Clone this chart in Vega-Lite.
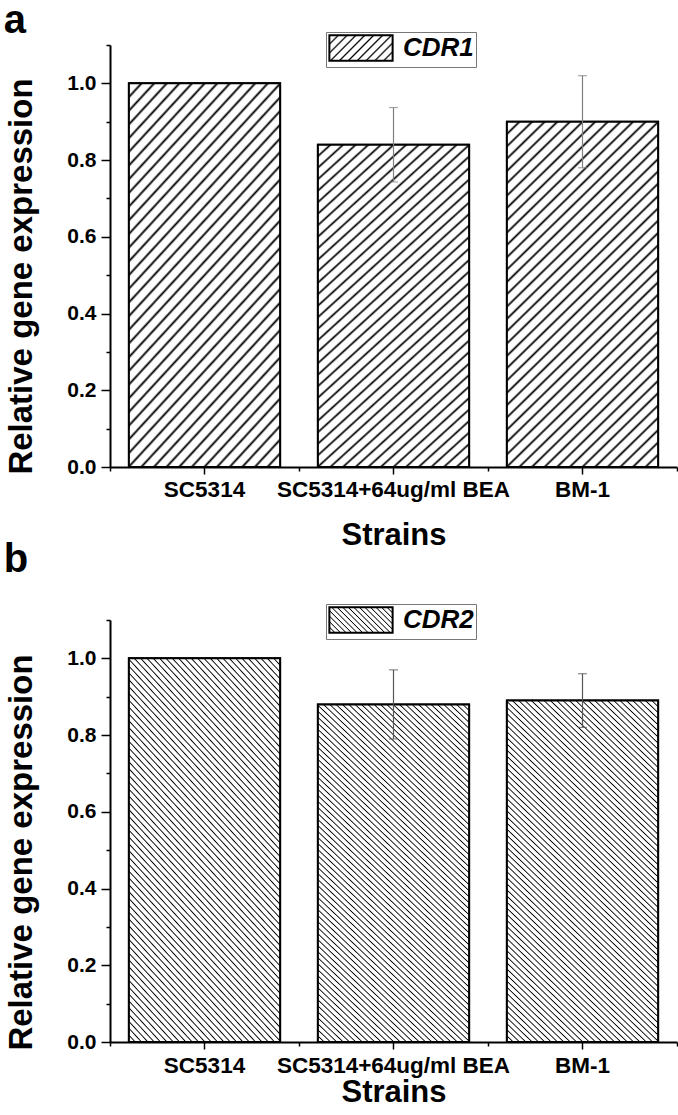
{
"$schema":"https://vega.github.io/schema/vega-lite/v6.json",
"padding":{"left":3,"top":0,"right":0,"bottom":0},
"spacing":-12,
"resolve":{"scale":{"stroke":"independent"},"legend":{"stroke":"independent"}},
"config":{"view":{"stroke":null},"font":"Liberation Sans",
 "title":{"anchor":"start","frame":"bounds","fontSize":40,"fontWeight":"bold","color":"#000","font":"Liberation Sans","offset":-9,"dx":-2},
 "axis":{"labelFont":"Liberation Sans","titleFont":"Liberation Sans","labelColor":"#000","titleColor":"#000","tickColor":"#000","domainColor":"#000","grid":false},
 "legend":{"labelFont":"Liberation Sans"}},
"vconcat":[
{
"title":{"text":"a"},
"width":567,"height":422,
"data":{"values":[
 {"strain":"SC5314","gene":"CDR1","value":1.0,"err":0},
 {"strain":"SC5314+64ug/ml BEA","gene":"CDR1","value":0.84,"err":0.097},
 {"strain":"BM-1","gene":"CDR1","value":0.90,"err":0.12}]},
"resolve":{"axis":{"x":"independent","y":"independent"}},
"layer":[
 {"mark":{"type":"bar","width":{"band":0.8},"strokeWidth":2,"fill":{"gradient":"linear","x1":0,"y1":0,"x2":1.207,"y2":0.483,"stops":[
{"offset":0,"color":"#000"},{"offset":0.02,"color":"#fff"},
{"offset":0.08,"color":"#fff"},{"offset":0.1,"color":"#000"},{"offset":0.12,"color":"#fff"},
{"offset":0.18,"color":"#fff"},{"offset":0.2,"color":"#000"},{"offset":0.22,"color":"#fff"},
{"offset":0.28,"color":"#fff"},{"offset":0.3,"color":"#000"},{"offset":0.32,"color":"#fff"},
{"offset":0.38,"color":"#fff"},{"offset":0.4,"color":"#000"},{"offset":0.42,"color":"#fff"},
{"offset":0.48,"color":"#fff"},{"offset":0.5,"color":"#000"},{"offset":0.52,"color":"#fff"},
{"offset":0.58,"color":"#fff"},{"offset":0.6,"color":"#000"},{"offset":0.62,"color":"#fff"},
{"offset":0.68,"color":"#fff"},{"offset":0.7,"color":"#000"},{"offset":0.72,"color":"#fff"},
{"offset":0.78,"color":"#fff"},{"offset":0.8,"color":"#000"},{"offset":0.82,"color":"#fff"},
{"offset":0.88,"color":"#fff"},{"offset":0.9,"color":"#000"},{"offset":0.92,"color":"#fff"},
{"offset":0.98,"color":"#fff"},{"offset":1,"color":"#000"}]}},
  "encoding":{
   "x":{"field":"strain","type":"nominal","sort":null,"scale":{"domain":["SC5314","SC5314+64ug/ml BEA","BM-1"],"paddingInner":0,"paddingOuter":0},
     "axis":{"title":"Strains","titleFontSize":31,"titleFontWeight":"bold","titlePadding":20,"labelAngle":0,"labelFontSize":22.5,"labelFontWeight":"bold","labelPadding":4,"labelLimit":0,"tickSize":7,"tickWidth":1.5,"domainWidth":2,"orient":"bottom"}},
   "y":{"field":"value","type":"quantitative","scale":{"domain":[0,1.1],"nice":false},
     "axis":{"orient":"left","values":[0,0.1,0.2,0.3,0.4,0.5,0.6,0.7,0.8,0.9,1.0,1.1],"labelExpr":"round(datum.value*10)%2==0 ? format(datum.value,'.1f') : ''","tickSize":{"condition":{"test":"round(datum.value*10)%2==0","value":9},"value":4},"tickWidth":1.5,"domainWidth":2,"labelFontSize":21,"labelFontWeight":"bold","labelPadding":5,"title":"Relative gene expression","titleFontSize":33,"titleFontWeight":"bold","titlePadding":28,"titleY":231}},
   "stroke":{"field":"gene","type":"nominal","scale":{"range":["#000"]},
     "legend":{"orient":"none","legendX":216,"legendY":-13,"title":null,"symbolType":"M-2.5,-1H2.5V1H-2.5Z","symbolSize":640,"symbolOffset":19,"symbolStrokeWidth":2,"labelOffset":28,"labelFontSize":26,"labelFontWeight":"bold","labelFontStyle":"italic","labelColor":"#000","labelLimit":0,"strokeColor":"#777","padding":2}}}},
 {"mark":{"type":"bar","width":{"band":0.8},"stroke":"#000","strokeWidth":2,
   "fill":{"gradient":"linear","x1":0,"y1":0,"x2":0.516,"y2":1.207,"stops":[
{"offset":0,"color":"#000"},{"offset":0.005,"color":"#fff"},
{"offset":0.02,"color":"#fff"},{"offset":0.025,"color":"#000"},{"offset":0.03,"color":"#fff"},
{"offset":0.045,"color":"#fff"},{"offset":0.05,"color":"#000"},{"offset":0.055,"color":"#fff"},
{"offset":0.07,"color":"#fff"},{"offset":0.075,"color":"#000"},{"offset":0.08,"color":"#fff"},
{"offset":0.095,"color":"#fff"},{"offset":0.1,"color":"#000"},{"offset":0.105,"color":"#fff"},
{"offset":0.12,"color":"#fff"},{"offset":0.125,"color":"#000"},{"offset":0.13,"color":"#fff"},
{"offset":0.145,"color":"#fff"},{"offset":0.15,"color":"#000"},{"offset":0.155,"color":"#fff"},
{"offset":0.17,"color":"#fff"},{"offset":0.175,"color":"#000"},{"offset":0.18,"color":"#fff"},
{"offset":0.195,"color":"#fff"},{"offset":0.2,"color":"#000"},{"offset":0.205,"color":"#fff"},
{"offset":0.22,"color":"#fff"},{"offset":0.225,"color":"#000"},{"offset":0.23,"color":"#fff"},
{"offset":0.245,"color":"#fff"},{"offset":0.25,"color":"#000"},{"offset":0.255,"color":"#fff"},
{"offset":0.27,"color":"#fff"},{"offset":0.275,"color":"#000"},{"offset":0.28,"color":"#fff"},
{"offset":0.295,"color":"#fff"},{"offset":0.3,"color":"#000"},{"offset":0.305,"color":"#fff"},
{"offset":0.32,"color":"#fff"},{"offset":0.325,"color":"#000"},{"offset":0.33,"color":"#fff"},
{"offset":0.345,"color":"#fff"},{"offset":0.35,"color":"#000"},{"offset":0.355,"color":"#fff"},
{"offset":0.37,"color":"#fff"},{"offset":0.375,"color":"#000"},{"offset":0.38,"color":"#fff"},
{"offset":0.395,"color":"#fff"},{"offset":0.4,"color":"#000"},{"offset":0.405,"color":"#fff"},
{"offset":0.42,"color":"#fff"},{"offset":0.425,"color":"#000"},{"offset":0.43,"color":"#fff"},
{"offset":0.445,"color":"#fff"},{"offset":0.45,"color":"#000"},{"offset":0.455,"color":"#fff"},
{"offset":0.47,"color":"#fff"},{"offset":0.475,"color":"#000"},{"offset":0.48,"color":"#fff"},
{"offset":0.495,"color":"#fff"},{"offset":0.5,"color":"#000"},{"offset":0.505,"color":"#fff"},
{"offset":0.52,"color":"#fff"},{"offset":0.525,"color":"#000"},{"offset":0.53,"color":"#fff"},
{"offset":0.545,"color":"#fff"},{"offset":0.55,"color":"#000"},{"offset":0.555,"color":"#fff"},
{"offset":0.57,"color":"#fff"},{"offset":0.575,"color":"#000"},{"offset":0.58,"color":"#fff"},
{"offset":0.595,"color":"#fff"},{"offset":0.6,"color":"#000"},{"offset":0.605,"color":"#fff"},
{"offset":0.62,"color":"#fff"},{"offset":0.625,"color":"#000"},{"offset":0.63,"color":"#fff"},
{"offset":0.645,"color":"#fff"},{"offset":0.65,"color":"#000"},{"offset":0.655,"color":"#fff"},
{"offset":0.67,"color":"#fff"},{"offset":0.675,"color":"#000"},{"offset":0.68,"color":"#fff"},
{"offset":0.695,"color":"#fff"},{"offset":0.7,"color":"#000"},{"offset":0.705,"color":"#fff"},
{"offset":0.72,"color":"#fff"},{"offset":0.725,"color":"#000"},{"offset":0.73,"color":"#fff"},
{"offset":0.745,"color":"#fff"},{"offset":0.75,"color":"#000"},{"offset":0.755,"color":"#fff"},
{"offset":0.77,"color":"#fff"},{"offset":0.775,"color":"#000"},{"offset":0.78,"color":"#fff"},
{"offset":0.795,"color":"#fff"},{"offset":0.8,"color":"#000"},{"offset":0.805,"color":"#fff"},
{"offset":0.82,"color":"#fff"},{"offset":0.825,"color":"#000"},{"offset":0.83,"color":"#fff"},
{"offset":0.845,"color":"#fff"},{"offset":0.85,"color":"#000"},{"offset":0.855,"color":"#fff"},
{"offset":0.87,"color":"#fff"},{"offset":0.875,"color":"#000"},{"offset":0.88,"color":"#fff"},
{"offset":0.895,"color":"#fff"},{"offset":0.9,"color":"#000"},{"offset":0.905,"color":"#fff"},
{"offset":0.92,"color":"#fff"},{"offset":0.925,"color":"#000"},{"offset":0.93,"color":"#fff"},
{"offset":0.945,"color":"#fff"},{"offset":0.95,"color":"#000"},{"offset":0.955,"color":"#fff"},
{"offset":0.97,"color":"#fff"},{"offset":0.975,"color":"#000"},{"offset":0.98,"color":"#fff"},
{"offset":0.995,"color":"#fff"},{"offset":1,"color":"#000"}]}},
  "encoding":{
   "x":{"field":"strain","type":"nominal","sort":null,"axis":{"tickBand":"extent","tickSize":4,"tickWidth":1.5,"labels":false,"domain":false,"title":null,"orient":"bottom"}},
   "y":{"field":"value","type":"quantitative","axis":null}}},
 {"transform":[{"filter":"datum.err > 0"}],
  "mark":{"type":"errorbar","ticks":{"size":9,"color":"#808080","thickness":1.2},"rule":{"color":"#808080","strokeWidth":1.2}},
  "encoding":{
   "x":{"field":"strain","type":"nominal","sort":null,"axis":null},
   "y":{"field":"value","type":"quantitative","axis":null},
   "yError":{"field":"err"}}}
]
},
{
"title":{"text":"b","offset":24},
"width":567,"height":422,
"data":{"values":[
 {"strain":"SC5314","gene":"CDR2","value":1.0,"err":0},
 {"strain":"SC5314+64ug/ml BEA","gene":"CDR2","value":0.88,"err":0.09},
 {"strain":"BM-1","gene":"CDR2","value":0.89,"err":0.07}]},
"resolve":{"axis":{"x":"independent","y":"independent"}},
"layer":[
 {"mark":{"type":"bar","width":{"band":0.8},"strokeWidth":2,"fill":{"gradient":"linear","x1":0,"y1":1,"x2":1.207,"y2":0.517,"stops":[
{"offset":0,"color":"#000"},{"offset":0.0125,"color":"#fff"},
{"offset":0.05,"color":"#fff"},{"offset":0.0625,"color":"#000"},{"offset":0.075,"color":"#fff"},
{"offset":0.1125,"color":"#fff"},{"offset":0.125,"color":"#000"},{"offset":0.1375,"color":"#fff"},
{"offset":0.175,"color":"#fff"},{"offset":0.1875,"color":"#000"},{"offset":0.2,"color":"#fff"},
{"offset":0.2375,"color":"#fff"},{"offset":0.25,"color":"#000"},{"offset":0.2625,"color":"#fff"},
{"offset":0.3,"color":"#fff"},{"offset":0.3125,"color":"#000"},{"offset":0.325,"color":"#fff"},
{"offset":0.3625,"color":"#fff"},{"offset":0.375,"color":"#000"},{"offset":0.3875,"color":"#fff"},
{"offset":0.425,"color":"#fff"},{"offset":0.4375,"color":"#000"},{"offset":0.45,"color":"#fff"},
{"offset":0.4875,"color":"#fff"},{"offset":0.5,"color":"#000"},{"offset":0.5125,"color":"#fff"},
{"offset":0.55,"color":"#fff"},{"offset":0.5625,"color":"#000"},{"offset":0.575,"color":"#fff"},
{"offset":0.6125,"color":"#fff"},{"offset":0.625,"color":"#000"},{"offset":0.6375,"color":"#fff"},
{"offset":0.675,"color":"#fff"},{"offset":0.6875,"color":"#000"},{"offset":0.7,"color":"#fff"},
{"offset":0.7375,"color":"#fff"},{"offset":0.75,"color":"#000"},{"offset":0.7625,"color":"#fff"},
{"offset":0.8,"color":"#fff"},{"offset":0.8125,"color":"#000"},{"offset":0.825,"color":"#fff"},
{"offset":0.8625,"color":"#fff"},{"offset":0.875,"color":"#000"},{"offset":0.8875,"color":"#fff"},
{"offset":0.925,"color":"#fff"},{"offset":0.9375,"color":"#000"},{"offset":0.95,"color":"#fff"},
{"offset":0.9875,"color":"#fff"},{"offset":1,"color":"#000"}]}},
  "encoding":{
   "x":{"field":"strain","type":"nominal","sort":null,"scale":{"domain":["SC5314","SC5314+64ug/ml BEA","BM-1"],"paddingInner":0,"paddingOuter":0},
     "axis":{"title":"Strains","titleFontSize":31,"titleFontWeight":"bold","titlePadding":1,"labelAngle":0,"labelFontSize":22.5,"labelFontWeight":"bold","labelPadding":5,"labelLimit":0,"tickSize":7,"tickWidth":1.5,"domainWidth":2,"orient":"bottom"}},
   "y":{"field":"value","type":"quantitative","scale":{"domain":[0,1.1],"nice":false},
     "axis":{"orient":"left","values":[0,0.1,0.2,0.3,0.4,0.5,0.6,0.7,0.8,0.9,1.0,1.1],"labelExpr":"round(datum.value*10)%2==0 ? format(datum.value,'.1f') : ''","tickSize":{"condition":{"test":"round(datum.value*10)%2==0","value":9},"value":4},"tickWidth":1.5,"domainWidth":2,"labelFontSize":21,"labelFontWeight":"bold","labelPadding":5,"title":"Relative gene expression","titleFontSize":33,"titleFontWeight":"bold","titlePadding":28,"titleY":232}},
   "stroke":{"field":"gene","type":"nominal","scale":{"range":["#000"]},
     "legend":{"orient":"none","legendX":216,"legendY":-16,"title":null,"symbolType":"M-2.5,-1H2.5V1H-2.5Z","symbolSize":640,"symbolOffset":19,"symbolStrokeWidth":2,"labelOffset":28,"labelFontSize":26,"labelFontWeight":"bold","labelFontStyle":"italic","labelColor":"#000","labelLimit":0,"strokeColor":"#777","padding":2}}}},
 {"mark":{"type":"bar","width":{"band":0.8},"stroke":"#000","strokeWidth":2,
   "fill":{"gradient":"linear","x1":0,"y1":1,"x2":0.513,"y2":-0.207,"stops":[
{"offset":0,"color":"#000"},{"offset":0.0025,"color":"#fff"},
{"offset":0.01,"color":"#fff"},{"offset":0.0125,"color":"#000"},{"offset":0.015,"color":"#fff"},
{"offset":0.0225,"color":"#fff"},{"offset":0.025,"color":"#000"},{"offset":0.0275,"color":"#fff"},
{"offset":0.035,"color":"#fff"},{"offset":0.0375,"color":"#000"},{"offset":0.04,"color":"#fff"},
{"offset":0.0475,"color":"#fff"},{"offset":0.05,"color":"#000"},{"offset":0.0525,"color":"#fff"},
{"offset":0.06,"color":"#fff"},{"offset":0.0625,"color":"#000"},{"offset":0.065,"color":"#fff"},
{"offset":0.0725,"color":"#fff"},{"offset":0.075,"color":"#000"},{"offset":0.0775,"color":"#fff"},
{"offset":0.085,"color":"#fff"},{"offset":0.0875,"color":"#000"},{"offset":0.09,"color":"#fff"},
{"offset":0.0975,"color":"#fff"},{"offset":0.1,"color":"#000"},{"offset":0.1025,"color":"#fff"},
{"offset":0.11,"color":"#fff"},{"offset":0.1125,"color":"#000"},{"offset":0.115,"color":"#fff"},
{"offset":0.1225,"color":"#fff"},{"offset":0.125,"color":"#000"},{"offset":0.1275,"color":"#fff"},
{"offset":0.135,"color":"#fff"},{"offset":0.1375,"color":"#000"},{"offset":0.14,"color":"#fff"},
{"offset":0.1475,"color":"#fff"},{"offset":0.15,"color":"#000"},{"offset":0.1525,"color":"#fff"},
{"offset":0.16,"color":"#fff"},{"offset":0.1625,"color":"#000"},{"offset":0.165,"color":"#fff"},
{"offset":0.1725,"color":"#fff"},{"offset":0.175,"color":"#000"},{"offset":0.1775,"color":"#fff"},
{"offset":0.185,"color":"#fff"},{"offset":0.1875,"color":"#000"},{"offset":0.19,"color":"#fff"},
{"offset":0.1975,"color":"#fff"},{"offset":0.2,"color":"#000"},{"offset":0.2025,"color":"#fff"},
{"offset":0.21,"color":"#fff"},{"offset":0.2125,"color":"#000"},{"offset":0.215,"color":"#fff"},
{"offset":0.2225,"color":"#fff"},{"offset":0.225,"color":"#000"},{"offset":0.2275,"color":"#fff"},
{"offset":0.235,"color":"#fff"},{"offset":0.2375,"color":"#000"},{"offset":0.24,"color":"#fff"},
{"offset":0.2475,"color":"#fff"},{"offset":0.25,"color":"#000"},{"offset":0.2525,"color":"#fff"},
{"offset":0.26,"color":"#fff"},{"offset":0.2625,"color":"#000"},{"offset":0.265,"color":"#fff"},
{"offset":0.2725,"color":"#fff"},{"offset":0.275,"color":"#000"},{"offset":0.2775,"color":"#fff"},
{"offset":0.285,"color":"#fff"},{"offset":0.2875,"color":"#000"},{"offset":0.29,"color":"#fff"},
{"offset":0.2975,"color":"#fff"},{"offset":0.3,"color":"#000"},{"offset":0.3025,"color":"#fff"},
{"offset":0.31,"color":"#fff"},{"offset":0.3125,"color":"#000"},{"offset":0.315,"color":"#fff"},
{"offset":0.3225,"color":"#fff"},{"offset":0.325,"color":"#000"},{"offset":0.3275,"color":"#fff"},
{"offset":0.335,"color":"#fff"},{"offset":0.3375,"color":"#000"},{"offset":0.34,"color":"#fff"},
{"offset":0.3475,"color":"#fff"},{"offset":0.35,"color":"#000"},{"offset":0.3525,"color":"#fff"},
{"offset":0.36,"color":"#fff"},{"offset":0.3625,"color":"#000"},{"offset":0.365,"color":"#fff"},
{"offset":0.3725,"color":"#fff"},{"offset":0.375,"color":"#000"},{"offset":0.3775,"color":"#fff"},
{"offset":0.385,"color":"#fff"},{"offset":0.3875,"color":"#000"},{"offset":0.39,"color":"#fff"},
{"offset":0.3975,"color":"#fff"},{"offset":0.4,"color":"#000"},{"offset":0.4025,"color":"#fff"},
{"offset":0.41,"color":"#fff"},{"offset":0.4125,"color":"#000"},{"offset":0.415,"color":"#fff"},
{"offset":0.4225,"color":"#fff"},{"offset":0.425,"color":"#000"},{"offset":0.4275,"color":"#fff"},
{"offset":0.435,"color":"#fff"},{"offset":0.4375,"color":"#000"},{"offset":0.44,"color":"#fff"},
{"offset":0.4475,"color":"#fff"},{"offset":0.45,"color":"#000"},{"offset":0.4525,"color":"#fff"},
{"offset":0.46,"color":"#fff"},{"offset":0.4625,"color":"#000"},{"offset":0.465,"color":"#fff"},
{"offset":0.4725,"color":"#fff"},{"offset":0.475,"color":"#000"},{"offset":0.4775,"color":"#fff"},
{"offset":0.485,"color":"#fff"},{"offset":0.4875,"color":"#000"},{"offset":0.49,"color":"#fff"},
{"offset":0.4975,"color":"#fff"},{"offset":0.5,"color":"#000"},{"offset":0.5025,"color":"#fff"},
{"offset":0.51,"color":"#fff"},{"offset":0.5125,"color":"#000"},{"offset":0.515,"color":"#fff"},
{"offset":0.5225,"color":"#fff"},{"offset":0.525,"color":"#000"},{"offset":0.5275,"color":"#fff"},
{"offset":0.535,"color":"#fff"},{"offset":0.5375,"color":"#000"},{"offset":0.54,"color":"#fff"},
{"offset":0.5475,"color":"#fff"},{"offset":0.55,"color":"#000"},{"offset":0.5525,"color":"#fff"},
{"offset":0.56,"color":"#fff"},{"offset":0.5625,"color":"#000"},{"offset":0.565,"color":"#fff"},
{"offset":0.5725,"color":"#fff"},{"offset":0.575,"color":"#000"},{"offset":0.5775,"color":"#fff"},
{"offset":0.585,"color":"#fff"},{"offset":0.5875,"color":"#000"},{"offset":0.59,"color":"#fff"},
{"offset":0.5975,"color":"#fff"},{"offset":0.6,"color":"#000"},{"offset":0.6025,"color":"#fff"},
{"offset":0.61,"color":"#fff"},{"offset":0.6125,"color":"#000"},{"offset":0.615,"color":"#fff"},
{"offset":0.6225,"color":"#fff"},{"offset":0.625,"color":"#000"},{"offset":0.6275,"color":"#fff"},
{"offset":0.635,"color":"#fff"},{"offset":0.6375,"color":"#000"},{"offset":0.64,"color":"#fff"},
{"offset":0.6475,"color":"#fff"},{"offset":0.65,"color":"#000"},{"offset":0.6525,"color":"#fff"},
{"offset":0.66,"color":"#fff"},{"offset":0.6625,"color":"#000"},{"offset":0.665,"color":"#fff"},
{"offset":0.6725,"color":"#fff"},{"offset":0.675,"color":"#000"},{"offset":0.6775,"color":"#fff"},
{"offset":0.685,"color":"#fff"},{"offset":0.6875,"color":"#000"},{"offset":0.69,"color":"#fff"},
{"offset":0.6975,"color":"#fff"},{"offset":0.7,"color":"#000"},{"offset":0.7025,"color":"#fff"},
{"offset":0.71,"color":"#fff"},{"offset":0.7125,"color":"#000"},{"offset":0.715,"color":"#fff"},
{"offset":0.7225,"color":"#fff"},{"offset":0.725,"color":"#000"},{"offset":0.7275,"color":"#fff"},
{"offset":0.735,"color":"#fff"},{"offset":0.7375,"color":"#000"},{"offset":0.74,"color":"#fff"},
{"offset":0.7475,"color":"#fff"},{"offset":0.75,"color":"#000"},{"offset":0.7525,"color":"#fff"},
{"offset":0.76,"color":"#fff"},{"offset":0.7625,"color":"#000"},{"offset":0.765,"color":"#fff"},
{"offset":0.7725,"color":"#fff"},{"offset":0.775,"color":"#000"},{"offset":0.7775,"color":"#fff"},
{"offset":0.785,"color":"#fff"},{"offset":0.7875,"color":"#000"},{"offset":0.79,"color":"#fff"},
{"offset":0.7975,"color":"#fff"},{"offset":0.8,"color":"#000"},{"offset":0.8025,"color":"#fff"},
{"offset":0.81,"color":"#fff"},{"offset":0.8125,"color":"#000"},{"offset":0.815,"color":"#fff"},
{"offset":0.8225,"color":"#fff"},{"offset":0.825,"color":"#000"},{"offset":0.8275,"color":"#fff"},
{"offset":0.835,"color":"#fff"},{"offset":0.8375,"color":"#000"},{"offset":0.84,"color":"#fff"},
{"offset":0.8475,"color":"#fff"},{"offset":0.85,"color":"#000"},{"offset":0.8525,"color":"#fff"},
{"offset":0.86,"color":"#fff"},{"offset":0.8625,"color":"#000"},{"offset":0.865,"color":"#fff"},
{"offset":0.8725,"color":"#fff"},{"offset":0.875,"color":"#000"},{"offset":0.8775,"color":"#fff"},
{"offset":0.885,"color":"#fff"},{"offset":0.8875,"color":"#000"},{"offset":0.89,"color":"#fff"},
{"offset":0.8975,"color":"#fff"},{"offset":0.9,"color":"#000"},{"offset":0.9025,"color":"#fff"},
{"offset":0.91,"color":"#fff"},{"offset":0.9125,"color":"#000"},{"offset":0.915,"color":"#fff"},
{"offset":0.9225,"color":"#fff"},{"offset":0.925,"color":"#000"},{"offset":0.9275,"color":"#fff"},
{"offset":0.935,"color":"#fff"},{"offset":0.9375,"color":"#000"},{"offset":0.94,"color":"#fff"},
{"offset":0.9475,"color":"#fff"},{"offset":0.95,"color":"#000"},{"offset":0.9525,"color":"#fff"},
{"offset":0.96,"color":"#fff"},{"offset":0.9625,"color":"#000"},{"offset":0.965,"color":"#fff"},
{"offset":0.9725,"color":"#fff"},{"offset":0.975,"color":"#000"},{"offset":0.9775,"color":"#fff"},
{"offset":0.985,"color":"#fff"},{"offset":0.9875,"color":"#000"},{"offset":0.99,"color":"#fff"},
{"offset":0.9975,"color":"#fff"},{"offset":1,"color":"#000"}]}},
  "encoding":{
   "x":{"field":"strain","type":"nominal","sort":null,"axis":{"tickBand":"extent","tickSize":4,"tickWidth":1.5,"labels":false,"domain":false,"title":null,"orient":"bottom"}},
   "y":{"field":"value","type":"quantitative","axis":null}}},
 {"transform":[{"filter":"datum.err > 0"}],
  "mark":{"type":"errorbar","ticks":{"size":9,"color":"#555","thickness":1.2},"rule":{"color":"#555","strokeWidth":1.2}},
  "encoding":{
   "x":{"field":"strain","type":"nominal","sort":null,"axis":null},
   "y":{"field":"value","type":"quantitative","axis":null},
   "yError":{"field":"err"}}}
]
}
]
}
